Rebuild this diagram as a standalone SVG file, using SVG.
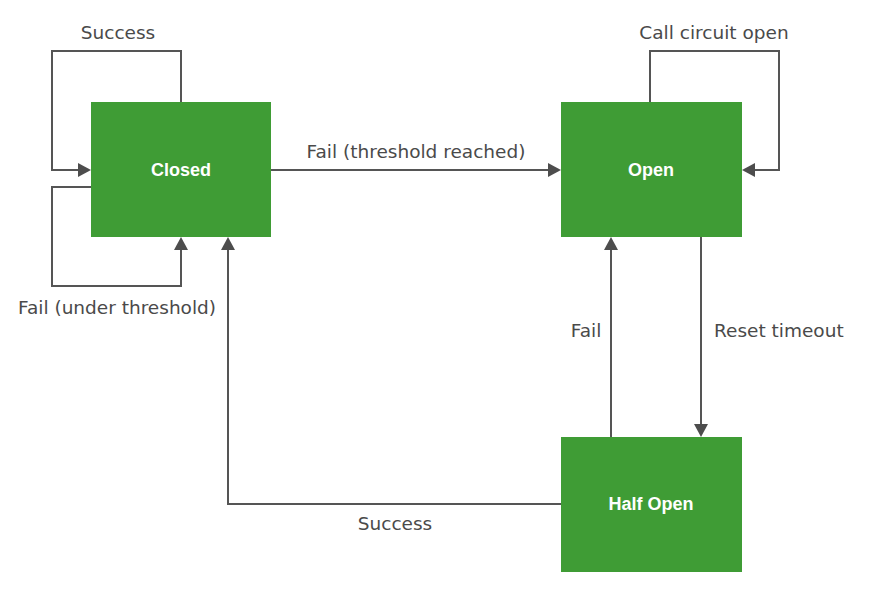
<svg xmlns="http://www.w3.org/2000/svg" width="887" height="591" viewBox="0 0 887 591">
<style>
.node{fill:#3f9c35}
.nl{font-family:"Liberation Sans",Arial,sans-serif;font-size:18px;font-weight:bold;fill:#ffffff;text-anchor:middle}
.el{font-family:"DejaVu Sans","Liberation Sans",sans-serif;font-size:18.5px;fill:#4a4a4a}
.c{fill:none;stroke:#555555;stroke-width:2}
</style>
<rect width="887" height="591" fill="#ffffff"/>
<g id="connectors">
<path class="c" d="M181,102 V51 H52 V170 H80"/>
<path class="c" d="M91,187 H52 V286 H181 V248"/>
<path class="c" d="M271,170 H550"/>
<path class="c" d="M650,102 V51 H779 V170 H753"/>
<path class="c" d="M611,437 V248"/>
<path class="c" d="M701,237 V426"/>
<path class="c" d="M561,504 H228 V248"/>
<g fill="#4d4d4d">
<path d="M91,170 L78,163 L78,177 z"/>
<path d="M181,237 L174,250 L188,250 z"/>
<path d="M561,170 L548,163 L548,177 z"/>
<path d="M742,170 L755,163 L755,177 z"/>
<path d="M611,237 L604,250 L618,250 z"/>
<path d="M701,437 L694,424 L708,424 z"/>
<path d="M228,237 L221,250 L235,250 z"/>
</g>
</g>
<g id="closed">
<rect class="node" x="91" y="102" width="180" height="135"/>
<text class="nl" x="181" y="176">Closed</text>
</g>
<g id="open">
<rect class="node" x="561" y="102" width="181" height="135"/>
<text class="nl" x="651" y="176">Open</text>
</g>
<g id="halfopen">
<rect class="node" x="561" y="437" width="181" height="135"/>
<text class="nl" x="651" y="510">Half Open</text>
</g>
<g id="labels">
<text class="el" x="118" y="39" text-anchor="middle">Success</text>
<text class="el" x="416" y="158" text-anchor="middle">Fail (threshold reached)</text>
<text class="el" x="714" y="39" text-anchor="middle">Call circuit open</text>
<text class="el" x="117" y="314" text-anchor="middle">Fail (under threshold)</text>
<text class="el" x="586" y="337" text-anchor="middle">Fail</text>
<text class="el" x="714" y="337">Reset timeout</text>
<text class="el" x="395" y="530" text-anchor="middle">Success</text>
</g>
</svg>
